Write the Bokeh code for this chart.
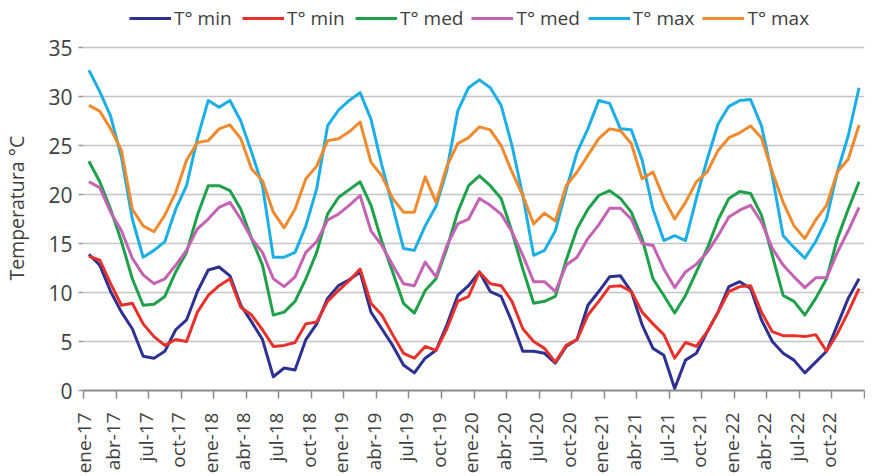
import math
from bokeh.plotting import figure
from bokeh.models import Range1d, FixedTicker, Legend, LegendItem
from bokeh.embed import file_html
from bokeh.resources import INLINE

# ---- data -------------------------------------------------------------
mes = ["ene", "feb", "mar", "abr", "may", "jun", "jul", "ago", "sep", "oct", "nov", "dic"]
years = ["17", "18", "19", "20", "21", "22"]
months = [f"{m}-{y}" for y in years for m in mes]

series_labels = ["T° min", "T° min", "T° med", "T° med", "T° max", "T° max"]
series_colors = ["#2E3192", "#E8312A", "#1FA04B", "#C462B4", "#1DAEE6", "#F08A2E"]

tmin_a = [13.9, 12.8, 10.1, 8.0, 6.3, 3.5, 3.3, 4.0, 6.2, 7.2, 10.1, 12.3,
          12.6, 11.7, 8.7, 7.0, 5.2, 1.4, 2.3, 2.1, 5.2, 6.8, 9.4, 10.7,
          11.3, 12.1, 8.0, 6.3, 4.6, 2.6, 1.8, 3.3, 4.1, 6.7, 9.7, 10.7,
          12.1, 10.1, 9.6, 7.0, 4.0, 4.0, 3.8, 2.8, 4.5, 5.2, 8.7, 10.1,
          11.6, 11.7, 10.1, 6.7, 4.3, 3.6, 0.2, 3.1, 3.8, 6.0, 8.0, 10.6,
          11.1, 10.4, 7.2, 5.0, 3.8, 3.1, 1.8, 2.9, 4.0, 6.7, 9.4, 11.4]
tmin_b = [13.7, 13.3, 10.9, 8.7, 8.9, 6.8, 5.5, 4.6, 5.2, 5.0, 8.0, 9.7,
          10.7, 11.4, 8.5, 7.7, 6.2, 4.5, 4.6, 4.9, 6.8, 7.0, 9.1, 10.2,
          11.2, 12.4, 8.9, 7.7, 5.7, 3.8, 3.3, 4.5, 4.1, 6.3, 9.1, 9.6,
          12.1, 10.9, 10.7, 9.1, 6.3, 5.0, 4.3, 2.9, 4.6, 5.2, 7.7, 9.1,
          10.6, 10.7, 10.1, 8.0, 6.8, 5.7, 3.3, 4.9, 4.5, 6.0, 8.0, 10.1,
          10.6, 10.7, 8.0, 6.0, 5.6, 5.6, 5.5, 5.7, 4.0, 5.8, 8.0, 10.4]
tmed_a = [23.4, 21.3, 18.5, 15.2, 11.4, 8.7, 8.8, 9.6, 12.1, 14.1, 17.9, 20.9,
          20.9, 20.4, 18.5, 15.5, 12.8, 7.7, 8.0, 9.1, 11.4, 14.1, 18.0, 19.7,
          20.5, 21.3, 18.9, 15.2, 12.1, 8.9, 7.9, 10.2, 11.4, 14.5, 18.2, 20.9,
          21.9, 20.9, 19.6, 16.2, 12.4, 8.9, 9.1, 9.6, 13.3, 16.5, 18.5, 19.9,
          20.4, 19.6, 18.2, 15.5, 11.4, 9.7, 7.9, 9.7, 12.1, 14.5, 17.4, 19.6,
          20.3, 20.1, 17.9, 13.8, 9.7, 9.1, 7.7, 9.4, 11.4, 15.5, 18.5, 21.3]
tmed_b = [21.3, 20.7, 18.2, 16.3, 13.5, 11.8, 10.9, 11.4, 12.8, 14.3, 16.5, 17.5,
          18.7, 19.2, 17.5, 15.5, 14.1, 11.4, 10.6, 11.6, 14.1, 15.2, 17.4, 18.0,
          18.9, 19.9, 16.3, 14.8, 12.8, 10.9, 10.7, 13.1, 11.6, 14.8, 17.0, 17.5,
          19.6, 18.9, 18.0, 16.2, 13.8, 11.1, 11.1, 10.1, 12.8, 13.6, 15.5, 16.9,
          18.6, 18.6, 17.5, 15.0, 14.8, 12.4, 10.5, 12.1, 12.9, 14.1, 15.8, 17.7,
          18.4, 18.9, 17.2, 14.5, 12.8, 11.6, 10.5, 11.5, 11.5, 14.1, 16.3, 18.7]
tmax_a = [32.7, 30.5, 28.0, 23.8, 17.5, 13.6, 14.3, 15.2, 18.5, 20.9, 25.7, 29.6,
          28.9, 29.6, 27.5, 24.3, 20.9, 13.6, 13.6, 14.1, 16.8, 20.6, 27.0, 28.6,
          29.6, 30.4, 27.7, 23.0, 18.8, 14.5, 14.3, 16.8, 18.8, 22.5, 28.5, 30.9,
          31.7, 30.9, 29.1, 25.0, 19.9, 13.8, 14.3, 16.3, 20.5, 24.3, 26.7, 29.6,
          29.3, 26.7, 26.6, 23.5, 18.5, 15.3, 15.8, 15.3, 19.6, 23.6, 27.2, 29.0,
          29.6, 29.7, 27.0, 21.9, 15.8, 14.6, 13.5, 15.2, 17.5, 22.3, 26.0, 30.9]
tmax_b = [29.1, 28.5, 26.7, 24.5, 18.5, 16.8, 16.2, 17.9, 20.2, 23.5, 25.3, 25.5,
          26.7, 27.1, 25.7, 22.6, 21.4, 18.2, 16.6, 18.5, 21.6, 22.9, 25.5, 25.7,
          26.4, 27.4, 23.3, 21.9, 19.6, 18.2, 18.2, 21.8, 19.2, 22.9, 25.2, 25.8,
          26.9, 26.6, 25.0, 22.3, 19.9, 17.0, 18.1, 17.3, 20.9, 22.3, 24.0, 25.7,
          26.7, 26.5, 25.2, 21.6, 22.3, 19.6, 17.5, 19.2, 21.3, 22.3, 24.5, 25.8,
          26.3, 27.0, 25.8, 22.3, 19.2, 16.8, 15.5, 17.4, 18.9, 22.3, 23.6, 27.1]

y_ticks = [0, 5, 10, 15, 20, 25, 30, 35]
y_title = "Temperatura °C"

# ---- figure -----------------------------------------------------------
FONT = "Open Sans"
TXT = "#404040"
x = list(range(len(months)))

# the frame reaches the top of the canvas so that the legend sits inside it
p = figure(width=865, height=476, output_backend="svg", toolbar_location=None,
           x_range=Range1d(-0.5, len(months) - 0.5), y_range=Range1d(0, 39.8),
           min_border_left=72, min_border_right=1, min_border_top=0,
           min_border_bottom=84)
p.outline_line_color = None
p.background_fill_color = "white"
p.border_fill_color = "white"

data = [tmin_a, tmin_b, tmed_a, tmed_b, tmax_a, tmax_b]
renderers = []
for vals, col in zip(data, series_colors):
    r = p.line(x, vals, line_color=col, line_width=3, line_join="round")
    renderers.append(r)

# x axis: labels at every 3rd month centre, ticks between categories
label_idx = list(range(0, len(months), 3))
# small offset compensates the anchor of the rotated labels (first one kept in range)
label_pos = [max(i - 0.75, -0.5) for i in label_idx]
xa = p.xaxis[0]
xa.ticker = FixedTicker(ticks=label_pos,
                        minor_ticks=[i - 0.5 for i in range(0, len(months) + 1, 3)])
xa.major_label_overrides = {pos: months[i] for pos, i in zip(label_pos, label_idx)}
xa.major_label_orientation = math.pi / 2
xa.major_tick_out = 0
xa.major_tick_in = 0
xa.minor_tick_out = 8
xa.minor_tick_in = 0
xa.minor_tick_line_color = "#8a8a8a"
xa.minor_tick_line_width = 1.5
xa.axis_line_color = "#8a8a8a"
xa.axis_line_width = 2
xa.major_label_standoff = 14
xa.major_label_text_font = FONT
xa.major_label_text_font_size = "19px"
xa.major_label_text_color = TXT

ya = p.yaxis[0]
ya.ticker = FixedTicker(ticks=y_ticks)
ya.axis_line_color = None
ya.major_tick_out = 5
ya.major_tick_in = 0
ya.major_tick_line_color = "#999999"
ya.major_tick_line_width = 1.5
ya.minor_tick_line_color = None
ya.major_label_standoff = 6
ya.major_label_text_font = FONT
ya.major_label_text_font_size = "21px"
ya.major_label_text_color = TXT
ya.axis_label = y_title + "\u00a0" * 5
ya.axis_label_text_font = FONT
ya.axis_label_text_font_size = "19.5px"
ya.axis_label_text_font_style = "normal"
ya.axis_label_text_color = TXT
ya.axis_label_standoff = 15

p.xgrid.grid_line_color = None
p.ygrid.ticker = FixedTicker(ticks=y_ticks)
p.ygrid.grid_line_color = "#c4c4c4"
p.ygrid.grid_line_width = 1.5

items = [LegendItem(label=lab, renderers=[r]) for lab, r in zip(series_labels, renderers)]
legend = Legend(items=items, orientation="horizontal", location=(46, 359),
                glyph_width=42, glyph_height=20, label_standoff=3, label_width=60,
                spacing=8, padding=0, margin=0, border_line_color=None,
                background_fill_alpha=0,
                label_text_font=FONT, label_text_font_size="19px",
                label_text_color=TXT)
p.add_layout(legend, "center")

open("out.html", "w").write(file_html(p, INLINE))
